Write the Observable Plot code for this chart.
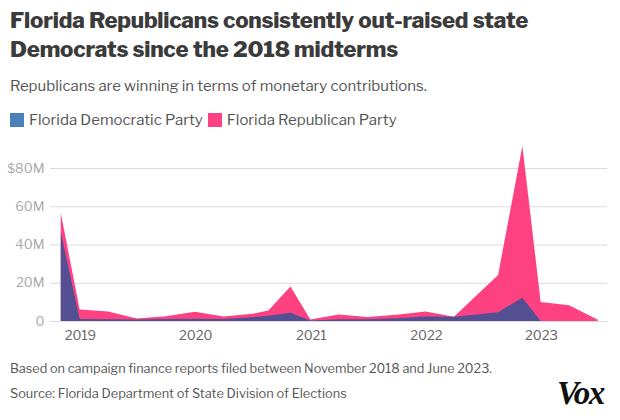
<!DOCTYPE html>
<html>
<head>
<meta charset="utf-8">
<script src="https://cdn.jsdelivr.net/npm/d3@7"></script>
<script src="https://cdn.jsdelivr.net/npm/@observablehq/plot@0.6"></script>
<style>
  html, body { margin: 0; padding: 0; background: #fff; }
  body { width: 620px; height: 420px; position: relative; overflow: hidden; font-family: "Libre Franklin", Inter, "Noto Sans", sans-serif; }
  .abs { position: absolute; left: 10px; white-space: nowrap; }
  #title { top: 6px; font-size: 22.3px; font-weight: 800; color: #3b3b3b; line-height: 28.5px; letter-spacing: -0.2px; }
  #subtitle { top: 77px; font-size: 15px; color: #555; }
  #legend { top: 111px; font-size: 15px; color: #555; display: flex; align-items: center; }
  #legend .sw { display: inline-block; width: 14px; height: 14px; margin-right: 5px; }
  #legend .item { display: flex; align-items: center; margin-right: 5px; }
  #chart { position: absolute; top: 140px; left: 0; }
  #caption { top: 361px; font-size: 12.7px; color: #555; }
  #source { top: 386px; font-size: 12.8px; color: #555; }
  #vox { position: absolute; left: 557px; top: 375px; font-family: "Liberation Serif", "DejaVu Serif", serif; font-weight: 900; font-style: italic; font-size: 33px; letter-spacing: -1.5px; color: #111; }
</style>
</head>
<body>
<div id="title" class="abs">Florida Republicans consistently out-raised state<br>Democrats since the 2018 midterms</div>
<div id="subtitle" class="abs">Republicans are winning in terms of monetary contributions.</div>
<div id="legend" class="abs"></div>
<div id="chart"></div>
<div id="caption" class="abs">Based on campaign finance reports filed between November 2018 and June 2023.</div>
<div id="source" class="abs">Source: Florida Department of State Division of Elections</div>
<div id="vox">Vox</div>
<script>
// Report dates (approximate)
const dates = [
  "2018-11-01", "2018-12-31", "2019-03-31", "2019-06-30", "2019-09-30", "2019-12-31",
  "2020-03-31", "2020-06-30", "2020-08-20", "2020-10-29", "2020-12-31",
  "2021-03-31", "2021-06-30", "2021-09-30", "2021-12-31",
  "2022-03-31", "2022-08-18", "2022-11-03", "2022-12-31",
  "2023-03-31", "2023-06-30"
];
// Contributions in millions of dollars
const democratic = [46.5, 1.0, 0.9, 0.8, 1.0, 1.2, 1.1, 2.0, 2.8, 4.3, 0.2, 0.9, 0.9, 1.5, 2.3, 2.2, 4.6, 12.2, 0, 0, 0];
const republican = [56.5, 6.0, 5.0, 1.3, 2.5, 4.8, 2.4, 3.8, 5.5, 18.0, 0.8, 3.4, 2.1, 3.3, 5.0, 2.2, 24.0, 91.5, 10.0, 8.3, 0.6];
const series = ["Florida Democratic Party", "Florida Republican Party"];
const legendColors = ["#4a81b9", "#fe4181"];
const yTicks = [0, 20, 40, 60, 80];
const xTicks = ["2019-01-01", "2020-01-01", "2021-01-01", "2022-01-01", "2023-01-01"];

const parse = d3.utcParse("%Y-%m-%d");
const rows = dates.map((d, i) => ({date: parse(d), dem: democratic[i] * 1e6, rep: republican[i] * 1e6}));

// legend
const legend = document.getElementById("legend");
series.forEach((s, i) => {
  const item = document.createElement("span");
  item.className = "item";
  item.innerHTML = `<span class="sw" style="background:${legendColors[i]}"></span>${s}`;
  legend.appendChild(item);
});

const chart = Plot.plot({
  width: 620,
  height: 210,
  marginLeft: 50,
  marginRight: 13,
  marginTop: 0,
  marginBottom: 29,
  x: {type: "utc", domain: [parse(xTicks[0]), parse(xTicks[4])], range: [80, 541]},
  y: {domain: [0, 80e6], range: [181, 28]},
  style: {fontFamily: "\"Libre Franklin\", Inter, \"Noto Sans\", sans-serif", fontSize: "13px", overflow: "visible"},
  marks: [
    Plot.gridY(yTicks.map(v => v * 1e6), {stroke: "#dcdcdc", strokeOpacity: 1}),
    Plot.areaY(rows, {x: "date", y: "rep", fill: "#fe4181", curve: "linear"}),
    Plot.areaY(rows, {x: "date", y: "dem", fill: "#534f92", curve: "linear"}),
    Plot.axisY(yTicks.map(v => v * 1e6), {
      tickSize: 0, tickPadding: 6, fill: "#aaa", fontSize: 13,
      tickFormat: d => d === 80e6 ? "$80M" : d === 0 ? "0" : (d / 1e6) + "M"
    }),
    Plot.axisX(xTicks.map(parse), {
      tickSize: 0, tickPadding: 9, fill: "#666", fontSize: 13,
      tickFormat: d3.utcFormat("%Y")
    })
  ]
});
document.getElementById("chart").appendChild(chart);
</script>
</body>
</html>
